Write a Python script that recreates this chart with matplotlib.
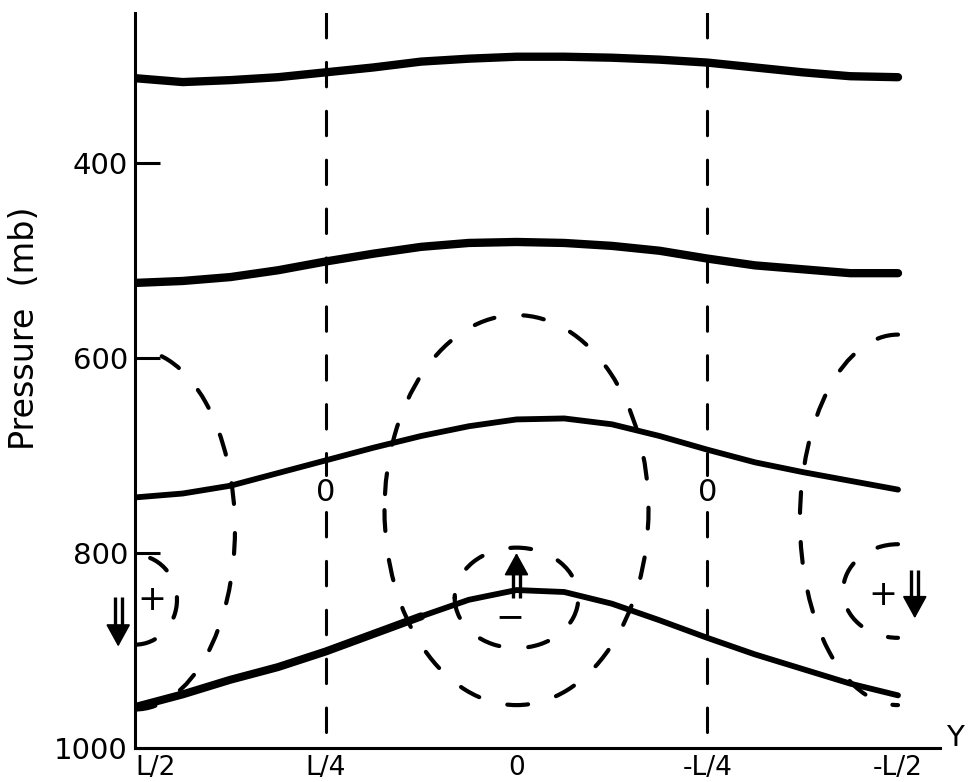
import matplotlib
matplotlib.use("Agg")
import matplotlib.pyplot as plt
from matplotlib.patches import Arc

plt.rcParams['font.family'] = ['DejaVu Sans']

# ---------------- data ----------------
# horizontal coordinate in units of L (L/2 on the left, -L/2 on the right)
y_pos = [0.5, 0.4375, 0.375, 0.3125, 0.25, 0.1875, 0.125, 0.0625, 0.0,
         -0.0625, -0.125, -0.1875, -0.25, -0.3125, -0.375, -0.4375, -0.5]

# solid curves: pressure (mb) along y_pos
curve1 = [313, 317, 315, 312, 307, 302, 296, 293, 291, 291, 292, 294, 297, 302, 307, 311, 312]
curve2 = [523, 521, 517, 510, 501, 493, 486, 482, 481, 482, 485, 490, 498, 505, 509, 513, 513]
curve3 = [743, 739, 731, 718, 705, 692, 680, 670, 663, 662, 668, 680, 694, 707, 717, 726, 735]
curve4 = [958, 945, 930, 917, 901, 883, 865, 848, 838, 840, 852, 869, 887, 904, 919, 934, 946]

# dashed contours (ellipses): centre y, centre p, width (L), height (mb), theta1, theta2
contours = [
    (0.0, 756, 0.346, 400, 0, 360),      # large zero contour in centre
    (0.0, 846, 0.162, 103, 0, 360),      # small "-" cell in centre
    (0.5, 776, 0.262, 369, 90, 270),     # left large
    (0.5, 848, 0.110, 92, 90, 270),      # left small "+"
    (-0.5, 766, 0.257, 380, -90, 90),    # right large
    (-0.5, 839, 0.144, 96, -90, 90),     # right small "+"
]

zero_lines = [0.25, -0.25]       # vertical dashed zero lines
zero_label_p = 738               # pressure where the "0" labels sit

x_ticks = [0.5, 0.25, 0.0, -0.25, -0.5]
x_labels = ['L/2', 'L/4', '0', '-L/4', '-L/2']
p_ticks = [400, 600, 800, 1000]

# signs: (y, p, text)
signs = [(0.478, 848, '+'), (-0.480, 843, '+'), (0.0085, 866, '\u2212')]
# vertical motion arrows: (y, p_tail, p_tip)
arrows = [(0.522, 845, 896), (-0.522, 817, 867), (0.0, 846, 800)]

# ---------------- figure ----------------
fig = plt.figure(figsize=(9.7, 7.82), dpi=100)
ax = fig.add_axes([135 / 970, 34 / 782, 805 / 970, 735 / 782])
ax.set_xlim(0.5, 0.5 - 805 / 763)
ax.set_ylim(1000, 1000 - 735 / 0.975)

for s in ['top', 'right']:
    ax.spines[s].set_visible(False)
for s in ['left', 'bottom']:
    ax.spines[s].set_linewidth(2.2)
    ax.spines[s].set_color('black')

# solid curves
ax.plot(y_pos, curve1, color='black', lw=6.0, solid_capstyle='round', solid_joinstyle='round')
ax.plot(y_pos, curve2, color='black', lw=6.0, solid_capstyle='round', solid_joinstyle='round')
ax.plot(y_pos, curve3, color='black', lw=4.2, solid_capstyle='round', solid_joinstyle='round')
ax.plot(y_pos[:7], curve4[:7], color='black', lw=5.8, solid_capstyle='round', solid_joinstyle='round')
ax.plot(y_pos[6:], curve4[6:], color='black', lw=4.2, solid_capstyle='round', solid_joinstyle='round')

# dashed contours
for (cy, cp, w, h, t1, t2) in contours:
    arc = Arc((cy, cp), w, h, theta1=t1, theta2=t2, color='black', lw=3.0,
              linestyle=(0, (5.0, 7.0)), capstyle='round')
    ax.add_patch(arc)

# vertical zero lines with a gap for the label
top_p = ax.get_ylim()[1]
for zx in zero_lines:
    ax.plot([zx, zx], [top_p, zero_label_p - 18], color='black', lw=2.2,
            linestyle=(0, (8.0, 8.0)), dash_capstyle='round')
    ax.plot([zx, zx], [zero_label_p + 20, 1000], color='black', lw=2.2,
            linestyle=(0, (8.0, 8.0)), dash_capstyle='round')
    ax.text(zx, zero_label_p, '0', fontsize=22, ha='center', va='center')

for (sx, sp, t) in signs:
    ax.text(sx, sp, t, fontsize=25, ha='center', va='center')

# double-shafted arrows
shaft_off = 3.5 / 763      # half spacing of the two shafts (in L)
head_len = 17              # mb
for (ax_y, p0, p1) in arrows:
    d = 1 if p1 > p0 else -1
    pb = p1 - d * head_len
    for off in (-shaft_off, shaft_off):
        ax.plot([ax_y + off, ax_y + off], [p0, pb + d * 2], color='black', lw=2.4,
                solid_capstyle='butt', clip_on=False)
    ax.annotate('', xy=(ax_y, p1), xytext=(ax_y, pb), xycoords='data',
                arrowprops=dict(arrowstyle='-|>,head_length=1.0,head_width=0.55',
                                mutation_scale=14, color='black', lw=1.4,
                                shrinkA=0, shrinkB=0),
                annotation_clip=False)

# ticks
ax.set_xticks(x_ticks)
ax.set_xticklabels(x_labels)
ax.tick_params(axis='x', which='major', length=0, pad=5, labelsize=19)
ax.set_xticks([0.25, 0.0, -0.25], minor=True)
ax.tick_params(axis='x', which='minor', direction='in', length=14, width=2.2)
ax.get_xticklabels()[0].set_horizontalalignment('left')

ax.set_yticks(p_ticks)
ax.set_yticklabels([str(p) for p in p_ticks])
ax.tick_params(axis='y', which='major', direction='in', length=18, width=2.2,
               pad=5, labelsize=21)

fig.text(25 / 970, 1 - 328 / 782, 'Pressure  (mb)', rotation=90,
         ha='center', va='center', fontsize=24)
fig.text(955 / 970, 1 - 738 / 782, 'Y', fontsize=21, ha='center', va='center')

fig.savefig('out.png', dpi=100)
